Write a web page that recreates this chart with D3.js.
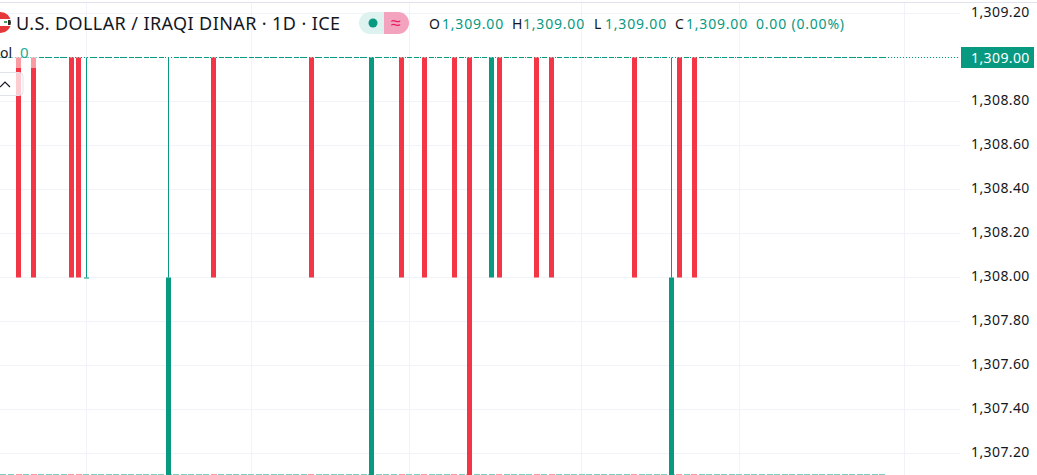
<!DOCTYPE html>
<html>
<head>
<meta charset="utf-8">
<script src="https://cdn.jsdelivr.net/npm/d3@7"></script>
<style>
  html, body { margin: 0; padding: 0; background: #fff; overflow: hidden; }
  svg { display: block; }
  text { font-family: "Noto Sans", sans-serif; }
  .axis path, .axis line { display: none; }
  .axis text { font-size: 14px; fill: #131722; letter-spacing: 0.4px; }
</style>
</head>
<body>
<script>
var w = 1037,
    h = 475;

var red = "#f23645",
    green = "#089981",
    grid = "#f0f3fa";

// days where price moved (day 0 is the first red bar on the left)
var moveDays  = [0, 2, 7, 8, 9, 20, 26, 39, 47, 51, 54, 58, 60, 63, 64, 69, 71, 82, 87, 88, 90];
var moveOpen  = [1309, 1309, 1309, 1309, 1308, 1307, 1309, 1309, 1307, 1309, 1309, 1309, 1309, 1308, 1309, 1309, 1309, 1309, 1307, 1309, 1309];
var moveClose = [1308, 1308, 1308, 1308, 1308, 1308, 1308, 1308, 1309, 1308, 1308, 1308, 1307, 1309, 1308, 1308, 1308, 1308, 1308, 1308, 1308];
var moveHigh  = [1309, 1309, 1309, 1309, 1309, 1309, 1309, 1309, 1309, 1309, 1309, 1309, 1309, 1309, 1309, 1309, 1309, 1309, 1309, 1309, 1309];

// flat days, open = high = low = close = 1309
var flatDays = [-3, -2, -1, 1, 3, 4, 5, 6, 10, 11, 12, 13, 14, 15, 16, 17, 18, 19, 21, 22, 23, 24, 25,
    27, 28, 29, 30, 31, 32, 33, 34, 35, 36, 37, 38, 40, 41, 42, 43, 44, 45, 46, 48, 49, 50, 52, 53,
    55, 56, 57, 59, 61, 62, 65, 66, 67, 68, 70, 72, 73, 74, 75, 76, 77, 78, 79, 80, 81, 83, 84, 85,
    86, 89, 91, 92, 93, 94, 95, 96, 97, 98, 99, 100, 101, 102, 103, 104, 105, 106, 107, 108, 109,
    110, 111, 112, 113, 114, 115];
var flatPrice = 1309;

var priceTicks = [1309.2, 1308.8, 1308.6, 1308.4, 1308.2, 1308, 1307.8, 1307.6, 1307.4, 1307.2];
var gridPrices = [1309.2, 1309, 1308.8, 1308.6, 1308.4, 1308.2, 1308, 1307.8, 1307.6, 1307.4, 1307.2];
var gridDays = [9, 31, 52, 75, 96, 118];
var lastPrice = 1309;

var legendOhlc = ["O", "H", "L", "C"];
var legendValues = ["1,309.00", "1,309.00", "1,309.00", "1,309.00"];

var svg = d3.select("body").append("svg")
    .attr("width", w)
    .attr("height", h);

var x = d3.scaleLinear().domain([0, 90]).range([18.5, 694.4]);
var y = d3.scaleLinear().domain([1309, 1308]).range([57.5, 277.5]);
var bw = 5;

var fmt = d3.format(",.2f");

function px(v) { return Math.floor(v) + 0.5; }

// grid
svg.append("g").selectAll("line")
    .data(gridPrices)
  .enter().append("line")
    .attr("x1", 0)
    .attr("x2", 960)
    .attr("y1", function(d) { return px(y(d)); })
    .attr("y2", function(d) { return px(y(d)); })
    .attr("stroke", grid);

svg.append("g").selectAll("line")
    .data(gridDays)
  .enter().append("line")
    .attr("x1", function(d) { return px(x(d)); })
    .attr("x2", function(d) { return px(x(d)); })
    .attr("y1", 3)
    .attr("y2", h)
    .attr("stroke", grid);

svg.append("line")
    .attr("x1", 0).attr("x2", w)
    .attr("y1", 2.5).attr("y2", 2.5)
    .attr("stroke", "#e0e3eb");

// volume strip along the bottom, all one height
var volDays = flatDays.concat(moveDays);
var vol = d3.scaleLinear().domain([0, 1]).range([h, h - 1]);
svg.append("g").selectAll("rect")
    .data(volDays)
  .enter().append("rect")
    .attr("x", function(d) { return Math.round(x(d) - 3); })
    .attr("width", 6)
    .attr("y", vol(1))
    .attr("height", vol(0) - vol(1))
    .attr("fill", function(d) {
      var i = moveDays.indexOf(d);
      return i >= 0 && moveClose[i] < moveOpen[i] ? "#f59aa2" : "#7fcdbf";
    });

// last price dotted line
svg.append("line")
    .attr("x1", 0)
    .attr("x2", 960)
    .attr("y1", y(lastPrice))
    .attr("y2", y(lastPrice))
    .attr("stroke", green)
    .attr("stroke-dasharray", "1 2");

// flat candles show as the dashes on the 1309 line
svg.append("g").selectAll("rect")
    .data(flatDays)
  .enter().append("rect")
    .attr("x", function(d) { return Math.round(x(d) - bw / 2); })
    .attr("width", bw)
    .attr("y", y(flatPrice) - 0.5)
    .attr("height", 1)
    .attr("fill", green);

// candles
var moves = moveDays.map(function(d, i) {
  return { day: d, open: moveOpen[i], close: moveClose[i], high: moveHigh[i] };
});

function col(d) { return d.close >= d.open ? green : red; }

svg.append("g").selectAll("line")
    .data(moves)
  .enter().append("line")
    .attr("x1", function(d) { return px(x(d.day)); })
    .attr("x2", function(d) { return px(x(d.day)); })
    .attr("y1", function(d) { return y(d.high); })
    .attr("y2", function(d) { return y(Math.max(d.open, d.close)); })
    .attr("stroke", col);

svg.append("g").selectAll("rect")
    .data(moves)
  .enter().append("rect")
    .attr("x", function(d) { return Math.round(x(d.day) - bw / 2); })
    .attr("width", bw)
    .attr("y", function(d) { return y(Math.max(d.open, d.close)); })
    .attr("height", function(d) { return Math.max(1, y(Math.min(d.open, d.close)) - y(Math.max(d.open, d.close))); })
    .attr("fill", col);

// price axis
svg.append("g")
    .attr("class", "axis")
    .attr("transform", "translate(964,-1)")
    .call(d3.axisRight(y).tickValues(priceTicks).tickSize(0).tickPadding(7).tickFormat(fmt))
  .selectAll("text")
    .attr("dy", "0.3em");

// last price tag
svg.append("rect")
    .attr("x", 961)
    .attr("y", y(lastPrice) - 10.5)
    .attr("width", 73)
    .attr("height", 21)
    .attr("fill", green);
svg.append("text")
    .attr("x", 971)
    .attr("y", y(lastPrice) + 5)
    .attr("fill", "#fff")
    .style("font-size", "14px")
    .style("letter-spacing", "0.4px")
    .text(fmt(lastPrice));

// legend veil over the first bars
svg.append("rect").attr("x", 0).attr("y", 40).attr("width", 37).attr("height", 28)
    .attr("fill", "#fff").attr("fill-opacity", 0.5);
svg.append("rect").attr("x", -6).attr("y", 72.5).attr("width", 29).attr("height", 23).attr("rx", 4)
    .attr("fill", "#fff").attr("fill-opacity", 0.75).attr("stroke", "#e0e3eb");
svg.append("path")
    .attr("d", "M0,87 L5,82 L10,87")
    .attr("fill", "none")
    .attr("stroke", "#131722")
    .attr("stroke-width", 1.2);

// flag, round and cut by the left edge
svg.append("clipPath").attr("id", "flag")
  .append("circle").attr("cx", 0.5).attr("cy", 22.5).attr("r", 10.5);
var flag = svg.append("g").attr("clip-path", "url(#flag)");
flag.append("rect").attr("x", 0).attr("y", 12).attr("width", 12).attr("height", 7).attr("fill", "#e5383b");
flag.append("rect").attr("x", 0).attr("y", 19).attr("width", 12).attr("height", 7).attr("fill", "#fff");
flag.append("rect").attr("x", 0).attr("y", 26).attr("width", 12).attr("height", 8).attr("fill", "#e5383b");
flag.append("rect").attr("x", 8).attr("y", 20).attr("width", 4).attr("height", 5).attr("fill", "#2b2b2b");
flag.append("rect").attr("x", 4).attr("y", 21).attr("width", 3).attr("height", 2).attr("fill", "#4c9a5e");

// title and OHLC legend
svg.append("text")
    .attr("x", 16)
    .attr("y", 30)
    .attr("fill", "#131722")
    .style("font-size", "18px")
    .style("letter-spacing", "0.4px")
    .text("U.S. DOLLAR / IRAQI DINAR · 1D · ICE");

svg.append("path")
    .attr("d", "M384,12 H370 A11,11 0 0 0 370,34 H384 Z")
    .attr("fill", "#def3f0");
svg.append("path")
    .attr("d", "M384,12 H398 A11,11 0 0 1 398,34 H384 Z")
    .attr("fill", "#f4a3bf");
svg.append("circle").attr("cx", 373).attr("cy", 23).attr("r", 4.5).attr("fill", green);
svg.append("text").attr("x", 396).attr("y", 29).attr("text-anchor", "middle")
    .attr("fill", "#e91e63").style("font-size", "18px").text("≈");

var legendX = [429, 512, 594, 675];
legendOhlc.forEach(function(k, i) {
  svg.append("text").attr("x", legendX[i]).attr("y", 29).attr("fill", "#131722")
      .style("font-size", "14px").style("letter-spacing", "0.8px").text(k);
  svg.append("text").attr("x", legendX[i] + (k === "O" ? 13 : 11)).attr("y", 29).attr("fill", green)
      .style("font-size", "14px").style("letter-spacing", "0.8px").text(legendValues[i]);
});
svg.append("text").attr("x", 756).attr("y", 29).attr("fill", green)
    .style("font-size", "14px").style("letter-spacing", "0.8px").text("0.00 (0.00%)");

svg.append("text").attr("x", 0).attr("y", 58).attr("fill", "#131722")
    .style("font-size", "14px").text("ol");
svg.append("text").attr("x", 20).attr("y", 58).attr("fill", "#22ab94")
    .style("font-size", "15px").text("0");
</script>
</body>
</html>
